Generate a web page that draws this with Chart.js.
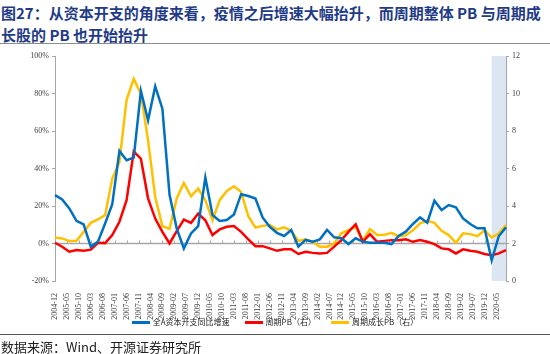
<!DOCTYPE html>
<html><head><meta charset="utf-8">
<script src="https://cdn.jsdelivr.net/npm/chart.js@4/dist/chart.umd.min.js"></script>
<style>
html,body{margin:0;padding:0;background:#fff;width:550px;height:354px;overflow:hidden;position:relative}
#title{position:absolute;left:1px;top:2px;width:550px;font:bold 15px/22px 'Noto Sans CJK SC',sans-serif;color:#1F3B87;white-space:nowrap}
#rule1{position:absolute;left:0;top:43px;width:550px;height:0;border-top:1.5px solid #8c8c8c}
#wrap{position:absolute;left:0;top:46px;width:550px;height:275px}
#legend{position:absolute;left:0;top:316px;width:550px;height:12px;display:flex;justify-content:center;align-items:center;font:8px/12px 'Noto Sans CJK SC',sans-serif;color:#222}
#legend .it{display:flex;align-items:center;margin:0 7.5px;white-space:nowrap}
#legend .sw{display:inline-block;width:18px;height:3px;margin-right:3px}
#rule2{position:absolute;left:0;top:334px;width:550px;height:0;border-top:1px solid #555}
#src{position:absolute;left:1px;top:339px;font:13px/16px 'Noto Sans CJK SC',sans-serif;color:#222;white-space:nowrap}
</style></head>
<body>
<div id="title">图27：从资本开支的角度来看，疫情之后增速大幅抬升，而周期整体 PB 与周期成<br>长股的 PB 也开始抬升</div>
<div id="rule1"></div>
<div id="wrap"><canvas id="c"></canvas></div>
<div id="legend"></div>
<div id="rule2"></div>
<div id="src">数据来源：Wind、开源证券研究所</div>
<script>
// ---- data ----
const START = '2004-12', END = '2020-09';
const seriesNames = ['全A资本开支同比增速', '周期PB（右）', '周期成长PB（右）'];
const shadeRange = ['2020-03', '2020-09'];
// quarterly observations, 2004-12 ... 2020-09
const capexGrowth = [25.8,23.5,18.7,12.1,10.2,-1.7,1.0,10.7,21.0,49.4,44.4,45.8,81.3,65.7,83.8,71.9,
  26.0,8.1,-2.6,5.4,9.3,35.2,15.2,12.0,12.5,15.5,26.3,25.3,24.0,13.9,8.9,5.7,
  4.0,7.2,-1.7,1.9,1.0,2.2,7.2,3.3,2.8,-0.3,2.8,1.0,0.4,0.4,0.4,-0.3,
  4.0,6.3,10.4,13.9,11.1,22.8,17.8,20.5,19.3,13.4,10.4,8.1,8.1,-9.0,4.0,8.6];
const cyclePB = [2.04,1.83,1.56,1.65,1.62,1.67,2.04,2.02,2.45,3.16,4.31,6.91,6.52,4.41,3.33,2.62,
  2.0,2.66,3.28,3.10,3.60,3.24,2.45,2.75,2.89,2.93,2.62,2.22,1.86,1.86,1.74,1.61,
  1.69,1.69,1.44,1.56,1.50,1.47,1.50,1.83,2.18,2.62,3.03,2.09,2.50,2.09,2.14,2.18,
  2.18,2.22,2.09,2.18,2.09,1.97,1.74,1.69,1.47,1.69,1.61,1.56,1.44,1.38,1.47,1.65];
const growthPB = [2.32,2.27,2.13,2.14,2.62,3.10,3.28,3.51,5.46,6.35,9.66,10.78,9.98,7.50,4.48,2.93,
  2.78,4.40,5.23,4.52,4.93,4.31,3.24,4.31,4.80,5.05,4.75,3.46,2.85,2.94,2.98,2.75,
  2.86,2.68,2.14,2.22,2.09,1.83,1.83,2.00,2.54,2.71,2.89,2.14,2.77,2.45,2.46,2.57,
  2.39,2.44,2.71,3.07,3.21,3.10,2.68,2.45,2.04,2.54,2.50,2.39,2.71,2.32,2.54,2.98];
const leftTicks = [-20, 0, 20, 40, 60, 80, 100];
const rightTicks = [0, 2, 4, 6, 8, 10, 12];

function monthRange(a, b) {
  let [y, m] = a.split('-').map(Number);
  const [ye, me] = b.split('-').map(Number);
  const out = [];
  while (y < ye || (y === ye && m <= me)) {
    out.push(y + '-' + String(m).padStart(2, '0'));
    m++; if (m > 12) { m = 1; y++; }
  }
  return out;
}
const months = monthRange(START, END);
const quarters = months.filter((m, i) => i % 3 === 0);
const toPts = arr => quarters.map((q, i) => ({ x: q, y: arr[i] }));

const serif = "'Liberation Serif','Times New Roman',serif";
const axisGray = '#A6A6A6';

const decor = {
  id: 'decor',
  beforeDatasetsDraw(chart) {
    const { ctx, chartArea: a, scales } = chart;
    const x = scales.x, y = scales.y;
    ctx.save();
    const x0 = x.getPixelForValue(months.indexOf(shadeRange[0]));
    const x1 = x.getPixelForValue(months.indexOf(shadeRange[1]));
    ctx.fillStyle = '#DCE6F2';
    ctx.fillRect(x0, a.top, x1 - x0, a.bottom - a.top);
    const yz = y.getPixelForValue(0);
    ctx.strokeStyle = axisGray;
    ctx.lineWidth = 1.5;
    ctx.beginPath(); ctx.moveTo(a.left, yz); ctx.lineTo(a.right, yz); ctx.stroke();
    ctx.lineWidth = 1;
    ctx.beginPath();
    for (let i = 0; i < months.length; i += 5) {
      const px = Math.round(x.getPixelForTick(i)) + 0.5;
      ctx.moveTo(px, yz - 3); ctx.lineTo(px, yz);
    }
    ctx.stroke();
    ctx.restore();
  }
};

const mk = (i, arr, color, axis) => ({
  label: seriesNames[i], data: toPts(arr), yAxisID: axis,
  borderColor: color, backgroundColor: color, borderWidth: 2.5,
  pointRadius: 0, tension: 0, fill: false
});

const chart = new Chart(document.getElementById('c'), {
  type: 'line',
  data: {
    labels: months,
    datasets: [
      mk(0, capexGrowth, '#0070C0', 'y'),
      mk(1, cyclePB, '#FF0000', 'y1'),
      mk(2, growthPB, '#FFC000', 'y1')
    ]
  },
  options: {
    responsive: true, maintainAspectRatio: false, animation: false,
    layout: { padding: { top: 10, left: 0, right: 0, bottom: 0 } },
    plugins: { tooltip: { enabled: false }, legend: { display: false } },
    scales: {
      x: {
        type: 'category',
        grid: { display: false }, border: { display: false },
        ticks: {
          autoSkip: false, maxRotation: 90, minRotation: 90, padding: 4,
          color: '#404040', font: { size: 8, family: serif },
          callback: (v, i) => (i % 5 === 0 ? months[i] : '')
        },
        afterFit: s => { s.height = 40; }
      },
      y: {
        position: 'left', min: leftTicks[0], max: leftTicks[leftTicks.length - 1],
        afterBuildTicks: s => { s.ticks = leftTicks.map(v => ({ value: v })); },
        ticks: { color: '#404040', font: { size: 8, family: serif }, padding: 3, callback: v => v + '%' },
        grid: { drawOnChartArea: false, tickLength: 3, color: axisGray },
        border: { color: axisGray, width: 1 },
        afterFit: s => { s.width = 55; }
      },
      y1: {
        position: 'right', min: rightTicks[0], max: rightTicks[rightTicks.length - 1],
        afterBuildTicks: s => { s.ticks = rightTicks.map(v => ({ value: v })); },
        ticks: { color: '#404040', font: { size: 8, family: serif }, padding: 3 },
        grid: { drawOnChartArea: false, tickLength: 3, color: axisGray },
        border: { color: axisGray, width: 1 },
        afterFit: s => { s.width = 44; }
      }
    }
  },
  plugins: [decor]
});

// HTML legend built from the chart's datasets
const lg = document.getElementById('legend');
chart.data.datasets.forEach(ds => {
  const it = document.createElement('span'); it.className = 'it';
  const sw = document.createElement('span'); sw.className = 'sw'; sw.style.background = ds.borderColor;
  it.appendChild(sw); it.appendChild(document.createTextNode(ds.label));
  lg.appendChild(it);
});
</script>
</body></html>
